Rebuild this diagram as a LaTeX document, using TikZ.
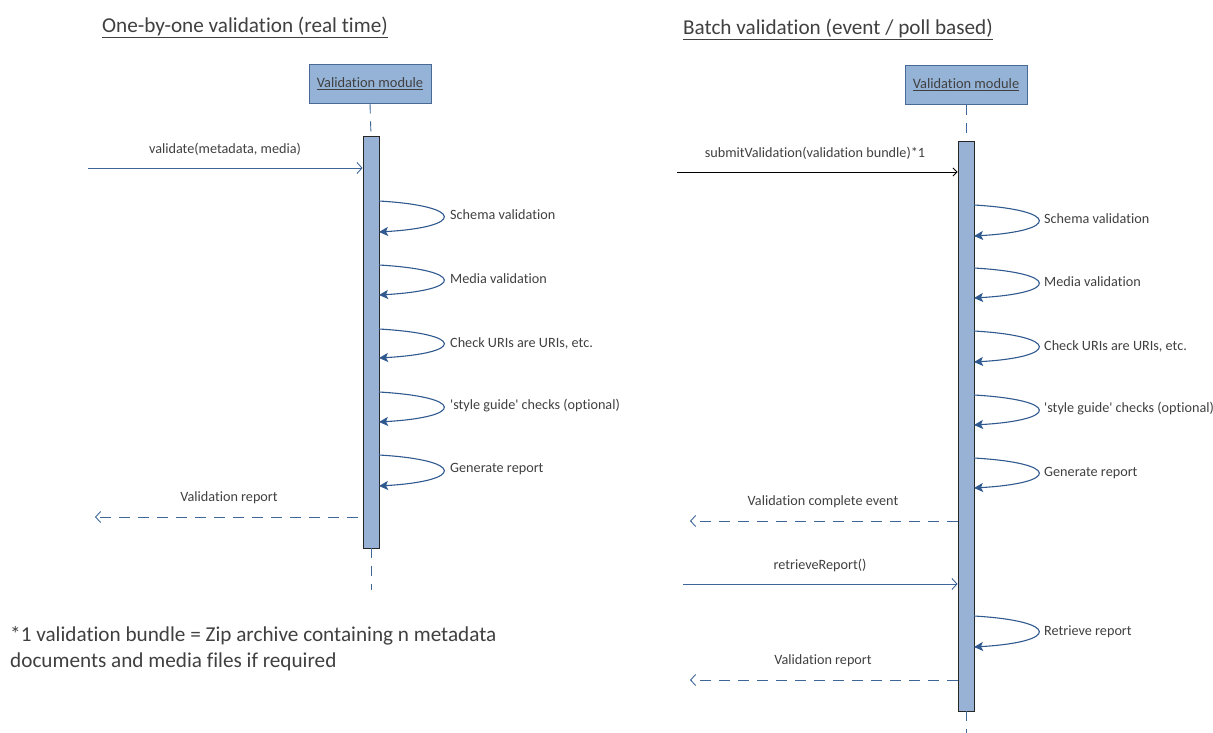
\documentclass[tikz,border=0pt]{standalone}
\usepackage{fontspec}
\setmainfont{Carlito}[Ligatures=CommonOff]
\usetikzlibrary{arrows.meta,calc}
\definecolor{txt}{HTML}{404040}
\definecolor{flow}{HTML}{3F6699}
\definecolor{loop}{HTML}{30598F}
\definecolor{boxfill}{HTML}{95B3D7}
\definecolor{boxline}{HTML}{4A6A96}
\definecolor{barfill}{HTML}{97B2D4}
\tikzset{
  lbl/.style={font=\fontsize{14.2}{16}\selectfont, text=txt, inner sep=0pt},
  title/.style={font=\fontsize{21.2}{24}\selectfont, text=txt, inner sep=0pt},
  module/.style={draw=boxline, fill=boxfill, line width=0.9pt, minimum width=122pt, minimum height=39pt, inner sep=0pt, font=\fontsize{14.4}{16}\selectfont, text=txt},
  actbar/.style={draw=black!85, fill=barfill, line width=0.9pt, minimum width=16pt, inner sep=0pt},
  lifeline/.style={draw=flow, line width=0.9pt, dash pattern=on 10pt off 8pt},
  call/.style={draw=flow, line width=0.9pt, -{Straight Barb[length=5pt,width=11pt,line width=0.9pt]}},
  reply/.style={draw=flow, line width=0.9pt, dash pattern=on 11pt off 8pt, -{Straight Barb[length=5pt,width=11pt,line width=0.9pt]}},
  selfcall/.style={draw=loop, line width=1.1pt, -{Stealth[length=9pt,width=9pt,inset=2pt]}},
}
\newcommand{\uline}[1]{\underline{#1}}
\newcommand{\sq}{\textquotesingle}
\begin{document}
\begin{tikzpicture}[x=1pt,y=-1pt]
\useasboundingbox (0,0) rectangle (1213,733);

% ---------- left: one-by-one validation ----------
\node[title] (titleL) at (245,27) {\uline{One-by-one validation (real time)}};
\node[module] (modL) at (370,83.5) {\uline{Validation module}};
\node[actbar, minimum height=412pt] (barL) at (371,342) {};
\coordinate (lifeendL) at (371,590);
\draw[lifeline] (modL.south) -- (barL.north);
\draw[lifeline] (barL.south) -- (lifeendL);

\coordinate (inL) at (88,168);
\draw[call] (inL) -- (inL -| barL.west);
\node[lbl] (lblValidate) at (225,149) {validate(metadata, media)};

\foreach \ya/\yb/\ylab/\name/\txt in {
  201/232/215/sL1/Schema validation,
  265/295/279/sL2/Media validation,
  329/358/343/sL3/{Check URIs are URIs, etc.},
  392/422/406/sL4/{\sq style guide\sq{} checks (optional)},
  455/486/469/sL5/Generate report}{
  \coordinate (\name a) at (379,\ya);
  \coordinate (\name b) at (379,\yb);
  \draw[selfcall] (\name a) .. controls ($(\name a)+(86,5)$) and ($(\name b)+(86,-5)$) .. (\name b);
  \node[lbl, anchor=west] (\name t) at (450,\ylab) {\txt};
}

\coordinate (outL) at (95,517);
\coordinate (outLs) at (358,517);
\draw[reply] (outLs) -- (outL);
\node[lbl] (lblReportL) at (229,498) {Validation report};

% ---------- right: batch validation ----------
\node[title] (titleR) at (838,29) {\uline{Batch validation (event / poll based)}};
\node[module] (modR) at (966,85) {\uline{Validation module}};
\node[actbar, minimum height=570pt] (barR) at (966,426) {};
\coordinate (lifeendR) at (966,733);
\draw[lifeline] (modR.south) -- (barR.north);
\draw[lifeline] (barR.south) -- (lifeendR);

\coordinate (inR) at (677,172);
\draw[line width=0.9pt, -{Straight Barb[length=4pt,width=8pt,line width=0.9pt]}] (inR) -- (inR -| barR.west);
\node[lbl] (lblSubmit) at (815,153) {submitValidation(validation bundle)*1};

\foreach \ya/\yb/\ylab/\name/\txt in {
  205/236/219/sR1/Schema validation,
  268/298/282/sR2/Media validation,
  331/362/346/sR3/{Check URIs are URIs, etc.},
  395/425/409/sR4/{\sq style guide\sq{} checks (optional)},
  458/488/473/sR5/Generate report,
  616/647/632/sR6/Retrieve report}{
  \coordinate (\name a) at (974,\ya);
  \coordinate (\name b) at (974,\yb);
  \draw[selfcall] (\name a) .. controls ($(\name a)+(86,5)$) and ($(\name b)+(86,-5)$) .. (\name b);
  \node[lbl, anchor=west] (\name t) at (1044,\ylab) {\txt};
}

\coordinate (eventR) at (690,521);
\draw[reply] (eventR -| barR.west) -- (eventR);
\node[lbl] (lblEvent) at (823,502) {Validation complete event};

\coordinate (fetchR) at (683,584);
\draw[call] (fetchR) -- (fetchR -| barR.west);
\node[lbl] (lblFetch) at (820,565) {retrieveReport()};

\coordinate (outR) at (690,680);
\draw[reply] (outR -| barR.west) -- (outR);
\node[lbl] (lblReportR) at (823,661) {Validation report};

% ---------- footnote ----------
\node[font=\fontsize{21.2}{26}\selectfont, text=txt, anchor=base west, align=left, inner sep=0pt] (note) at (10,667)
  {*1 validation bundle = Zip archive containing n metadata\\documents and media files if required};
\end{tikzpicture}
\end{document}
